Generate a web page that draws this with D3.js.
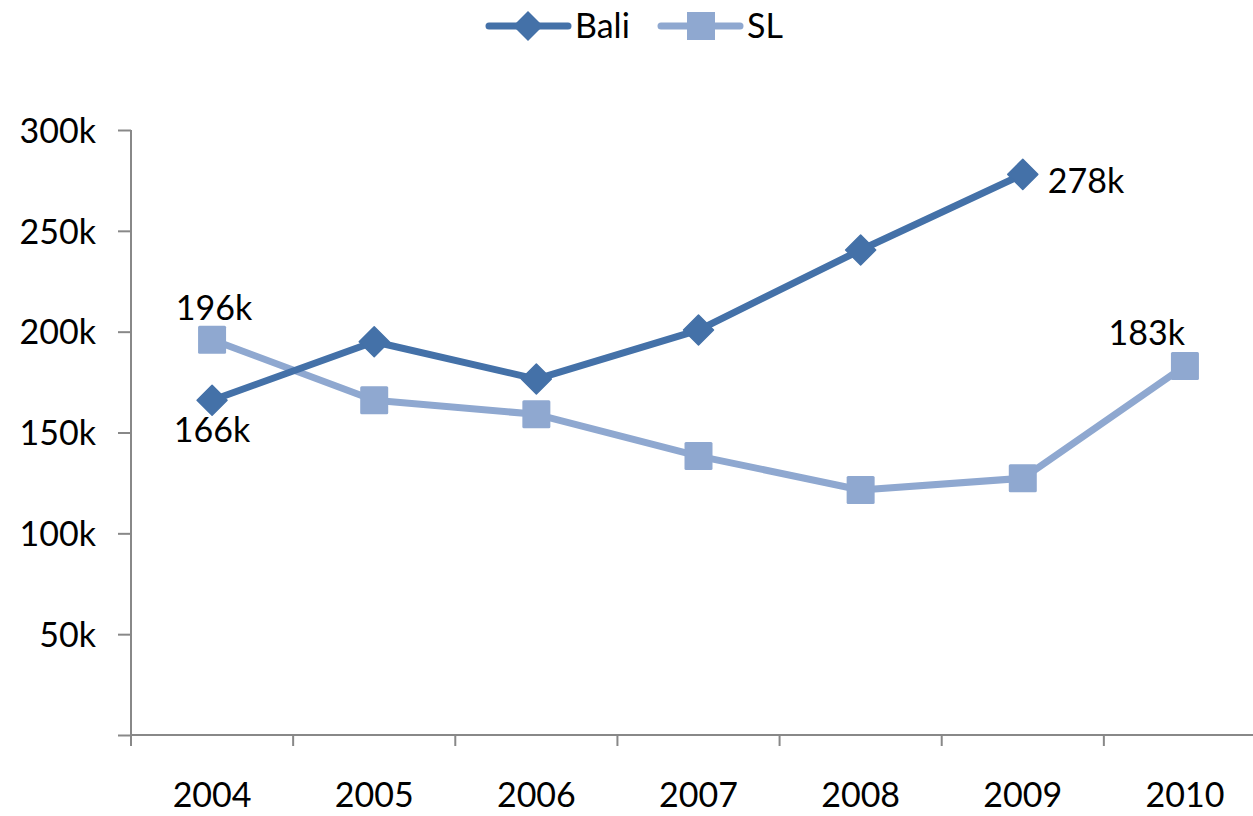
<!DOCTYPE html>
<html>
<head>
<meta charset="utf-8">
<script src="https://cdn.jsdelivr.net/npm/d3@7"></script>
<style>
  html, body { margin: 0; padding: 0; background: #fff; }
  svg { display: block; font-family: Lato, "Open Sans", sans-serif; }
</style>
</head>
<body>
<svg id="chart" width="1253" height="816"></svg>
<script>
// Visitor numbers per year
const years = ["2004", "2005", "2006", "2007", "2008", "2009", "2010"];
const baliValues = [166000, 195000, 176500, 200800, 240500, 278000, null];
const slValues = [196000, 166000, 159000, 138300, 121500, 127300, 183000];
const yTicks = [50000, 100000, 150000, 200000, 250000, 300000];

const baliColor = "#4471a8";
const slColor = "#8fa8d0";
const axisColor = "#888888";
const fontSize = 34;

const svg = d3.select("#chart");

const x = d3.scaleBand().domain(years).range([131, 1266]);
const y = d3.scaleLinear().domain([0, 300000]).range([735, 130]);
const cx = d => x(d) + x.bandwidth() / 2;
const fmtK = v => Math.round(v / 1000) + "k";

// Y axis
const yAxis = svg.append("g").attr("transform", "translate(131,0)")
  .call(d3.axisLeft(y).tickValues([0].concat(yTicks)).tickSize(13).tickPadding(22)
    .tickFormat(v => v === 0 ? "" : fmtK(v)));
yAxis.select(".domain").remove();
yAxis.selectAll(".tick line").attr("stroke", axisColor).attr("stroke-width", 2);
yAxis.selectAll("text").attr("font-size", fontSize).attr("fill", "#000")
  .attr("font-family", "Lato, sans-serif").attr("dy", "0.36em");
yAxis.append("line").attr("x1", 0).attr("x2", 0)
  .attr("y1", y(300000)).attr("y2", y(0))
  .attr("stroke", axisColor).attr("stroke-width", 2);

// X axis with ticks at category boundaries
const xg = svg.append("g");
xg.append("line").attr("x1", 131).attr("x2", 1266)
  .attr("y1", y(0)).attr("y2", y(0))
  .attr("stroke", axisColor).attr("stroke-width", 2);
const boundaries = years.map(d => x(d)).concat([x(years[years.length - 1]) + x.bandwidth()]);
xg.selectAll("line.tk").data(boundaries).join("line").attr("class", "tk")
  .attr("x1", d => d).attr("x2", d => d)
  .attr("y1", y(0)).attr("y2", y(0) + 11)
  .attr("stroke", axisColor).attr("stroke-width", 2);
xg.selectAll("text").data(years).join("text")
  .attr("x", d => cx(d)).attr("y", 807)
  .attr("text-anchor", "middle").attr("font-size", fontSize).attr("fill", "#000")
  .text(d => d);

// Series
const baliPts = years.map((d, i) => ({ year: d, v: baliValues[i] })).filter(p => p.v != null);
const slPts = years.map((d, i) => ({ year: d, v: slValues[i] })).filter(p => p.v != null);

const line = d3.line().x(p => cx(p.year)).y(p => y(p.v));

svg.append("path").datum(slPts).attr("d", line)
  .attr("fill", "none").attr("stroke", slColor).attr("stroke-width", 7)
  .attr("stroke-linejoin", "round").attr("stroke-linecap", "round");
svg.selectAll("rect.sl").data(slPts).join("rect").attr("class", "sl")
  .attr("x", p => cx(p.year) - 14).attr("y", p => y(p.v) - 14)
  .attr("width", 28).attr("height", 28).attr("rx", 1.5)
  .attr("fill", slColor);

svg.append("path").datum(baliPts).attr("d", line)
  .attr("fill", "none").attr("stroke", baliColor).attr("stroke-width", 7)
  .attr("stroke-linejoin", "round").attr("stroke-linecap", "round");
const diamond = "M0,-15L15,0L0,15L-15,0Z";
svg.selectAll("path.bali").data(baliPts).join("path").attr("class", "bali")
  .attr("d", diamond)
  .attr("transform", p => `translate(${cx(p.year)},${y(p.v)})`)
  .attr("fill", baliColor).attr("stroke", baliColor).attr("stroke-width", 1.5)
  .attr("stroke-linejoin", "round");

// Value labels on the first and last points
const labels = [
  { v: baliValues[0], x: cx(years[0]), y: y(baliValues[0]) + 42, anchor: "middle" },
  { v: slValues[0], x: cx(years[0]) + 2, y: y(slValues[0]) - 20, anchor: "middle" },
  { v: baliValues[5], x: cx(years[5]) + 25, y: y(baliValues[5]) + 19, anchor: "start" },
  { v: slValues[6], x: cx(years[6]), y: y(slValues[6]) - 21, anchor: "end" }
];
svg.selectAll("text.lbl").data(labels).join("text").attr("class", "lbl")
  .attr("x", d => d.x).attr("y", d => d.y)
  .attr("text-anchor", d => d.anchor).attr("font-size", fontSize).attr("fill", "#000")
  .text(d => fmtK(d.v));

// Legend
const legend = svg.append("g");
const lg1 = legend.append("g").attr("transform", "translate(0,26)");
lg1.append("line").attr("x1", 489).attr("x2", 568).attr("y1", 0).attr("y2", 0)
  .attr("stroke", baliColor).attr("stroke-width", 7).attr("stroke-linecap", "round");
lg1.append("path").attr("d", diamond).attr("transform", "translate(528,0)").attr("fill", baliColor);
lg1.append("text").attr("x", 575).attr("y", 12).attr("font-size", fontSize).attr("fill", "#000").text("Bali");

const lg2 = legend.append("g").attr("transform", "translate(0,26)");
lg2.append("line").attr("x1", 661).attr("x2", 740).attr("y1", 0).attr("y2", 0)
  .attr("stroke", slColor).attr("stroke-width", 7).attr("stroke-linecap", "round");
lg2.append("rect").attr("x", 687).attr("y", -14).attr("width", 28).attr("height", 28).attr("fill", slColor);
lg2.append("text").attr("x", 747).attr("y", 12).attr("font-size", fontSize).attr("fill", "#000").text("SL");
</script>
</body>
</html>
